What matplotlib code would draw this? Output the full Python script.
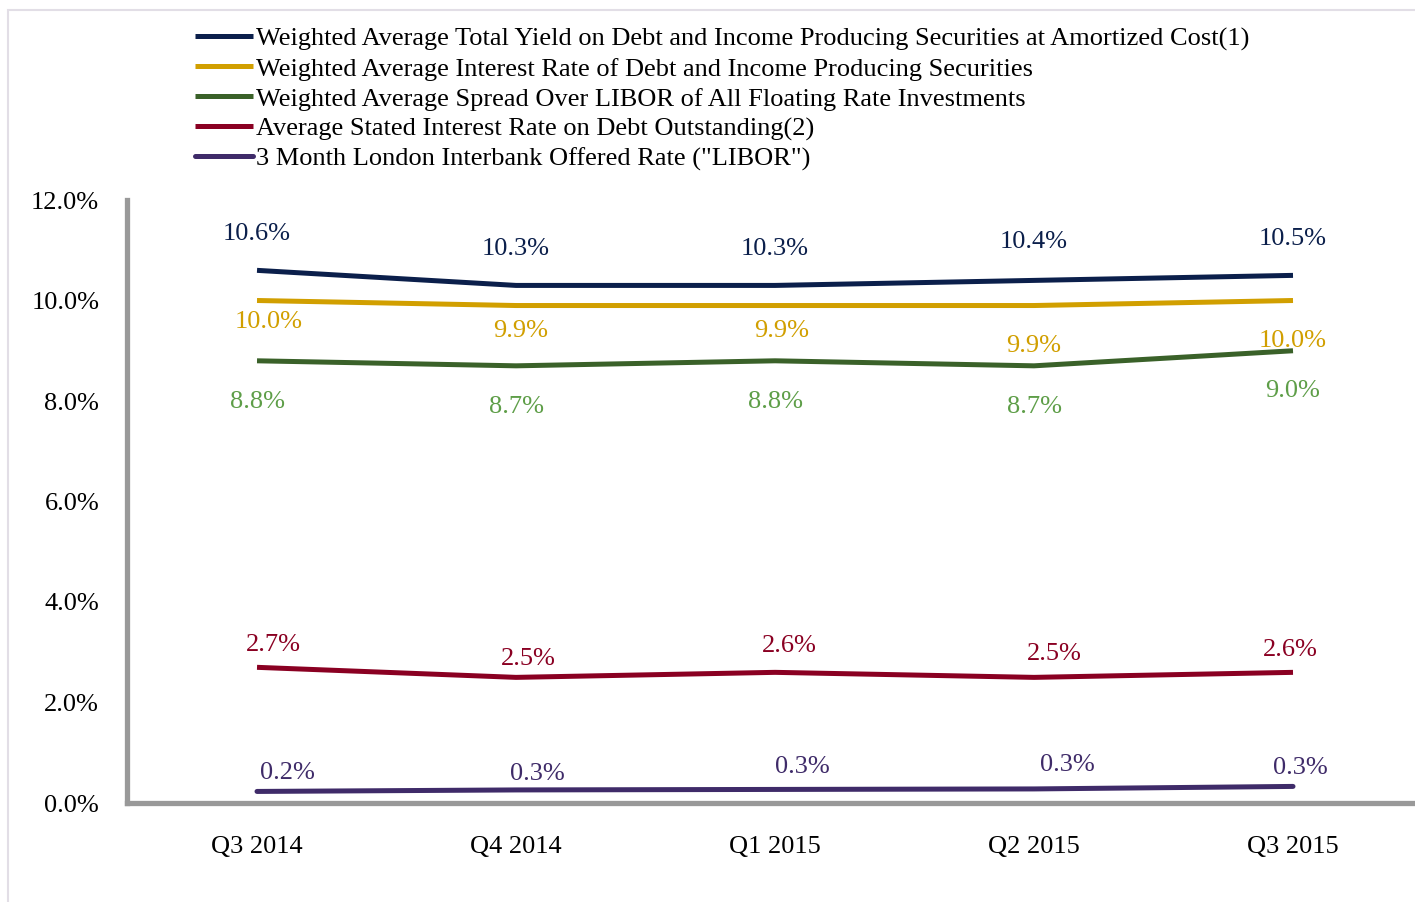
import matplotlib
matplotlib.use("Agg")
import matplotlib.pyplot as plt
from matplotlib.patches import Rectangle
from matplotlib.ticker import FuncFormatter

quarters = ["Q3 2014", "Q4 2014", "Q1 2015", "Q2 2015", "Q3 2015"]
total_yield = [10.6, 10.3, 10.3, 10.4, 10.5]
interest_rate = [10.0, 9.9, 9.9, 9.9, 10.0]
spread_libor = [8.8, 8.7, 8.8, 8.7, 9.0]
debt_rate = [2.7, 2.5, 2.6, 2.5, 2.6]
libor = [0.23, 0.26, 0.27, 0.28, 0.33]

series_names = [
    "Weighted Average Total Yield on Debt and Income Producing Securities at Amortized Cost(1)",
    "Weighted Average Interest Rate of Debt and Income Producing Securities",
    "Weighted Average Spread Over LIBOR of All Floating Rate Investments",
    "Average Stated Interest Rate on Debt Outstanding(2)",
    "3 Month London Interbank Offered Rate (\"LIBOR\")",
]
series_values = [total_yield, interest_rate, spread_libor, debt_rate, libor]
line_colors = ["#0B1F4B", "#D19F00", "#3A6129", "#8A0022", "#3F2B69"]
label_colors = ["#0B1F4B", "#D19F00", "#5E9E48", "#8A0022", "#3F2B69"]

# label offsets in pixels (dx, dy) relative to the point
label_offsets = [
    [(0, 36), (0, 36), (0, 36), (0, 38), (0, 36)],
    [(12, -21), (5, -25), (7, -25), (0, -40), (0, -40)],
    [(0, -41), (0, -41), (0, -41), (0, -41), (0, -40)],
    [(16, 22), (12, 18), (14, 26), (20, 23), (-3, 22)],
    [(30, 18), (21, 16), (27, 22), (33, 24), (7, 18)],
]

FONT = "Liberation Serif"
FS = 19

fig = plt.figure(figsize=(14.15, 9.02), dpi=100)
fig.patches.append(Rectangle((8 / 1415, -0.01), 1.2, 1 - 10 / 902 + 0.01,
                             transform=fig.transFigure, fill=False,
                             edgecolor="#E2DEE6", linewidth=1.5))

ax = fig.add_axes([127 / 1415, 1 - 803 / 902, 1 - 127 / 1415, (803 - 200) / 902])
x = list(range(len(quarters)))
handles = []
for vals, lc, tc, offs, name in zip(series_values, line_colors, label_colors,
                                    label_offsets, series_names):
    h, = ax.plot(x, vals, color=lc, linewidth=3.6, solid_capstyle="butt", label=name)
    handles.append(h)
    for xi, v, (dx, dy) in zip(x, vals, offs):
        ax.annotate(f"{v:.1f}%", (xi, v), xytext=(dx * 0.72, dy * 0.72),
                    textcoords="offset points", ha="center", va="center",
                    color=tc, fontsize=FS, fontfamily=FONT)
handles[-1].set_solid_capstyle("round")

ax.set_xlim(-0.502, (1415 - 257) / 259)
ax.set_ylim(0, 12)
ax.set_yticks([0, 2, 4, 6, 8, 10, 12])
ax.yaxis.set_major_formatter(FuncFormatter(lambda v, p: f"{v:.1f}%"))
ax.set_xticks(x)
ax.set_xticklabels(quarters)
for lab in ax.get_xticklabels() + ax.get_yticklabels():
    lab.set_fontfamily(FONT)
    lab.set_fontsize(FS)
    lab.set_color("black")
ax.tick_params(axis="both", length=0)
ax.tick_params(axis="y", pad=20)
ax.tick_params(axis="x", pad=24)
for s in ["top", "right"]:
    ax.spines[s].set_visible(False)
for s in ["left", "bottom"]:
    ax.spines[s].set_color("#999999")
    ax.spines[s].set_linewidth(3.8)
ax.set_facecolor("none")

leg = fig.legend(handles=handles, labels=series_names, loc="upper left",
                 bbox_to_anchor=(195 / 1415, 1 - 27 / 902), frameon=False,
                 prop={"family": FONT, "size": FS}, handlelength=2.2,
                 handletextpad=0.12, labelspacing=0.24, borderpad=0, borderaxespad=0)

fig.savefig("out.png", dpi=100)
